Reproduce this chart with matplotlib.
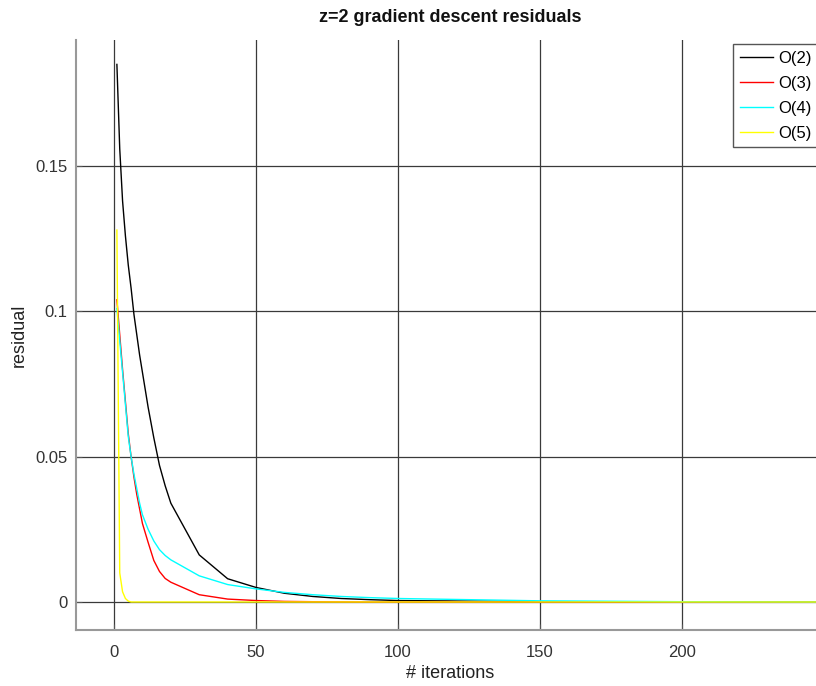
import matplotlib
matplotlib.use("Agg")
import matplotlib.pyplot as plt

plt.rcParams['font.family'] = ['Liberation Sans', 'DejaVu Sans']

iterations = [1, 2, 3, 4, 5, 6, 7, 8, 9, 10, 12, 14, 16, 18, 20, 30, 40, 50, 60,
              70, 80, 90, 100, 150, 200, 250]
res_o2 = [0.185, 0.156, 0.138, 0.126, 0.116, 0.108, 0.099, 0.092, 0.085, 0.079,
          0.067, 0.0565, 0.047, 0.040, 0.034, 0.0162, 0.0080, 0.0050, 0.0030,
          0.0019, 0.0012, 0.0008, 0.0005, 0.0001, 0.0, 0.0]
res_o3 = [0.104, 0.092, 0.080, 0.069, 0.058, 0.050, 0.043, 0.037, 0.032, 0.027,
          0.0205, 0.0143, 0.0105, 0.0081, 0.0068, 0.0025, 0.0010, 0.0005, 0.0002,
          0.0001, 0.00005, 0.0, 0.0, 0.0, 0.0, 0.0]
res_o4 = [0.101, 0.090, 0.079, 0.068, 0.057, 0.050, 0.044, 0.039, 0.034, 0.030,
          0.025, 0.021, 0.018, 0.016, 0.0145, 0.0090, 0.0060, 0.0045, 0.0033,
          0.0025, 0.0019, 0.0015, 0.0012, 0.0004, 0.0001, 0.0]
res_o5 = [0.128, 0.010, 0.0035, 0.0012, 0.0003, 0.0, 0.0, 0.0, 0.0, 0.0,
          0.0, 0.0, 0.0, 0.0, 0.0, 0.0, 0.0, 0.0, 0.0, 0.0, 0.0, 0.0, 0.0,
          0.0, 0.0, 0.0]

series = [("O(2)", res_o2, "#000000"),
          ("O(3)", res_o3, "#ff0000"),
          ("O(4)", res_o4, "#00ffff"),
          ("O(5)", res_o5, "#ffff00")]

xticks = [0, 50, 100, 150, 200]
yticks = [0, 0.05, 0.1, 0.15]
yticklabels = ["0", "0.05", "0.1", "0.15"]

W, H = 816, 686
fig = plt.figure(figsize=(W / 100, H / 100), dpi=100)
left, right, top, bottom = 76, 824, 40, 630
ax = fig.add_axes([left / W, 1 - bottom / H, (right - left) / W, (bottom - top) / H])

for name, vals, col in series:
    ax.plot(iterations, vals, color=col, lw=1.0, label=name, zorder=3)

ax.set_xlim(-13.4, 250)
ax.set_ylim(-0.00964, 0.1934)
ax.set_xticks(xticks)
ax.set_yticks(yticks)
ax.set_yticklabels(yticklabels)
ax.grid(True, color="#3a3a3a", lw=0.9)
ax.set_axisbelow(True)

for s in ("top", "right"):
    ax.spines[s].set_visible(False)
for s in ("left", "bottom"):
    ax.spines[s].set_color("#999999")
    ax.spines[s].set_linewidth(1.5)

ax.tick_params(direction="in", length=4, color="#555555", labelsize=12,
               labelcolor="#333333")
ax.tick_params(axis="y", pad=6)
ax.tick_params(axis="x", pad=11)

fig.text(450 / W, 1 - 17 / H, "z=2 gradient descent residuals", ha="center",
         va="center", fontsize=13, fontweight="bold", color="#111111")
fig.text(450 / W, 1 - 673 / H, "# iterations", ha="center", va="center",
         fontsize=13, color="#222222")
fig.text(19 / W, 1 - 335 / H, "residual", ha="center", va="center",
         rotation=90, fontsize=13, color="#222222")

leg = ax.legend(loc="upper left", bbox_to_anchor=(733 / W, 1 - 44 / H),
                bbox_transform=fig.transFigure, fontsize=12, frameon=True,
                fancybox=False, framealpha=1, edgecolor="#555555",
                handlelength=2.0, handletextpad=0.3, labelspacing=0.6,
                borderpad=0.4, borderaxespad=0)
leg.get_frame().set_linewidth(1.0)

fig.savefig("out.png", dpi=100)
